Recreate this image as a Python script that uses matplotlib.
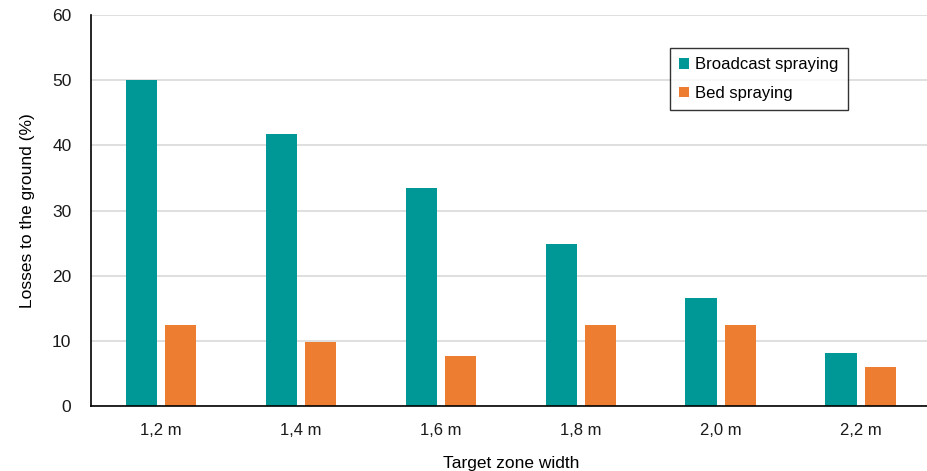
import matplotlib
matplotlib.use("Agg")
import matplotlib.pyplot as plt
import numpy as np

plt.rcParams['font.family'] = ['Liberation Sans', 'DejaVu Sans']

categories = ["1,2 m", "1,4 m", "1,6 m", "1,8 m", "2,0 m", "2,2 m"]
broadcast = [50.0, 41.7, 33.4, 24.8, 16.6, 8.2]
bed = [12.4, 9.8, 7.6, 12.4, 12.4, 6.0]
series_names = ["Broadcast spraying", "Bed spraying"]
yticks = [0, 10, 20, 30, 40, 50, 60]

teal = "#009896"
orange = "#ED7D31"

fig = plt.figure(figsize=(9.28, 4.71), dpi=100)
ax = fig.add_axes([0.098, 0.138, 0.905, 0.830])

x = np.arange(len(categories))
w = 0.225
ax.bar(x - 0.14, broadcast, w, color=teal, label=series_names[0], zorder=3)
ax.bar(x + 0.14, bed, w, color=orange, label=series_names[1], zorder=3)

ax.set_xlim(-0.5, len(categories) - 0.5)
ax.set_ylim(0, 60)
ax.set_yticks(yticks)
ax.set_xticks(x)
ax.set_xticklabels(categories)
ax.tick_params(axis='both', length=0, labelsize=12, colors='#1a1a1a')
ax.tick_params(axis='y', labelsize=12.5, pad=14)
ax.tick_params(axis='x', pad=12)
ax.grid(axis='y', color='#d9d9d9', linewidth=1.2, zorder=0)
for s in ['top', 'right']:
    ax.spines[s].set_visible(False)
ax.spines['left'].set_color('black')
ax.spines['bottom'].set_color('black')
ax.spines['left'].set_linewidth(1.2)
ax.spines['bottom'].set_linewidth(1.2)
ax.spines['bottom'].set_zorder(4)

ax.set_xlabel("Target zone width", fontsize=12.5, labelpad=13)
ax.set_ylabel("Losses to the ground (%)", fontsize=12.5, labelpad=12)

leg = ax.legend(loc='upper left', bbox_to_anchor=(0.689, 0.915), frameon=True,
                fancybox=False, edgecolor='black', fontsize=12,
                handlelength=0.6, handleheight=0.6, handletextpad=0.4,
                borderpad=0.55, labelspacing=0.8, borderaxespad=0)
leg.get_frame().set_linewidth(1.0)

fig.savefig("out.png", dpi=100)
